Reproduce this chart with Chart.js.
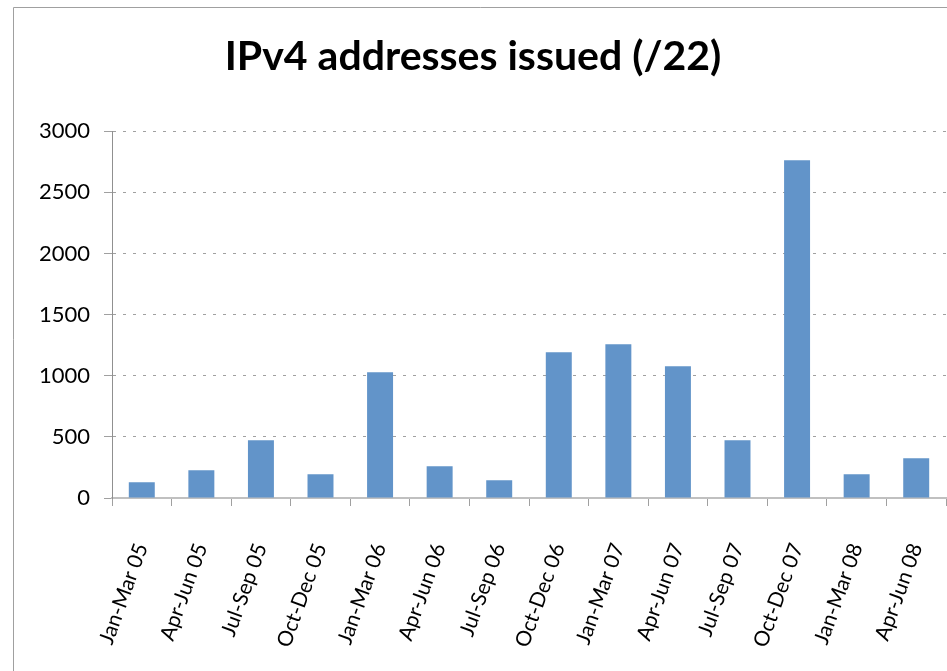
<!DOCTYPE html>
<html>
<head>
<meta charset="utf-8">
<script src="https://cdn.jsdelivr.net/npm/chart.js@4"></script>
<style>
  html, body { margin: 0; padding: 0; background: #fff; overflow: hidden; }
  #wrap { position: relative; width: 947px; height: 671px; }
</style>
</head>
<body>
<div id="wrap"><canvas id="graphique"></canvas></div>
<script>
// Trimestres
const trimestres = [
    "Jan-Mar 05", "Apr-Jun 05", "Jul-Sep 05", "Oct-Dec 05",
    "Jan-Mar 06", "Apr-Jun 06", "Jul-Sep 06", "Oct-Dec 06",
    "Jan-Mar 07", "Apr-Jun 07", "Jul-Sep 07", "Oct-Dec 07",
    "Jan-Mar 08", "Apr-Jun 08"
];
// Nombre de /22 attribués par trimestre
const adressesIPv4 = [128, 226, 472, 194, 1028, 259, 145, 1192, 1257, 1077, 472, 2763, 194, 325];
const graduationsY = [0, 500, 1000, 1500, 2000, 2500, 3000];

const titre = "IPv4 addresses issued (/22)";

// cadre gris du graphique (coupé à droite et en bas)
const cadre = {
    id: "cadre",
    beforeDraw(chart) {
        const ctx = chart.ctx;
        ctx.save();
        ctx.strokeStyle = "#a0a0a0";
        ctx.lineWidth = 1;
        ctx.beginPath();
        ctx.moveTo(13.5, 700);
        ctx.lineTo(13.5, 7.5);
        ctx.lineTo(960, 7.5);
        ctx.stroke();
        ctx.restore();
    }
};

const data = {
    labels: trimestres,
    datasets: [{
        label: titre,
        data: adressesIPv4,
        backgroundColor: "#6294c9",
        categoryPercentage: 1,
        barPercentage: 0.436,
    }],
};

const config = {
    type: "bar",
    data: data,
    options: {
        responsive: false,
        animation: false,
        layout: { padding: { left: 0, right: 1, top: 0, bottom: 0 } },
        plugins: {
            legend: { display: false },
            tooltip: { enabled: false },
            title: {
                display: true,
                text: titre,
                color: "#000",
                font: { family: "Lato", size: 41, weight: "bold", lineHeight: 1.2 },
                padding: { top: 32, bottom: 50 },
            },
        },
        scales: {
            x: {
                grid: { drawOnChartArea: false, drawTicks: true, tickLength: 8, color: "#a0a0a0", offset: true },
                border: { color: "#c0c0c0", width: 2 },
                ticks: {
                    color: "#000",
                    font: { family: "Lato", size: 21 },
                    minRotation: 70,
                    maxRotation: 70,
                    padding: 34,
                    autoSkip: false,
                },
                afterFit(scale) {
                    scale.height = 173;
                    scale.paddingLeft = 0;
                    scale.paddingRight = 0;
                },
            },
            y: {
                min: 0,
                max: 3000,
                afterBuildTicks(scale) {
                    scale.ticks = graduationsY.map(v => ({ value: v }));
                },
                grid: { color: "#a0a0a0", tickLength: 8, lineWidth: 1 },
                border: { color: "#909090", width: 1, dash: [3, 7] },
                ticks: {
                    color: "#000",
                    font: { family: "Lato", size: 22 },
                    padding: 14,
                    callback: (valeur) => String(valeur),
                },
                afterFit(scale) { scale.width = 112; },
            },
        },
    },
    plugins: [cadre],
};

const canvas = document.querySelector("#graphique");
canvas.width = 947;
canvas.height = 671;
new Chart(canvas, config);
</script>
</body>
</html>
